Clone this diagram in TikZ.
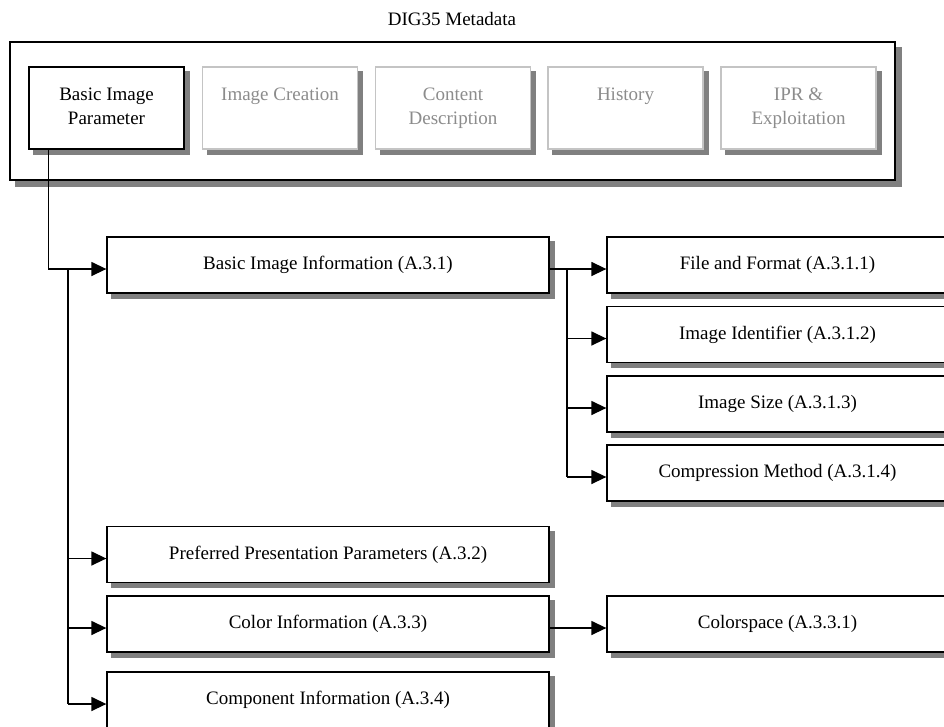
\documentclass[tikz,border=0pt]{standalone}
\usepackage{fontspec}
\setmainfont{Liberation Serif}
\usetikzlibrary{shadows,arrows.meta,calc}
\definecolor{shd}{HTML}{808080}
\definecolor{dimline}{HTML}{C4C4C4}
\definecolor{dimtext}{HTML}{8C8C8C}
\begin{document}
\begin{tikzpicture}[x=1pt,y=-1pt,
  every node/.style={font=\fontsize{19}{24}\selectfont},
  shbox/.style={draw=black, line width=1.3pt, fill=white, inner sep=0pt, align=center,
    general shadow={fill=shd, draw=shd, shadow xshift=5pt, shadow yshift=-5pt}},
  dimbox/.style={shbox, draw=dimline, text=dimtext},
  topbox/.style={minimum width=155pt, minimum height=82pt},
  leftbox/.style={shbox, minimum width=442pt, minimum height=56pt},
  rightbox/.style={shbox, minimum width=341pt, minimum height=56pt},
  conn/.style={line width=1.4pt, draw=black},
  arr/.style={conn, -{Triangle[length=15pt,width=14pt]}}]
\useasboundingbox (0,0) rectangle (944,726);
\clip (0,0) rectangle (944,726);

% title and container
\node[anchor=base] (title) at (452,25) {DIG35 Metadata};
\node[draw=black, line width=1.3pt, fill=white, inner sep=0pt,
  minimum width=885pt, minimum height=138pt,
  general shadow={fill=shd, draw=shd, shadow xshift=6pt, shadow yshift=-6pt}] (meta) at (452.5,111) {};

% top-level categories
\node[shbox, topbox] (bip) at (106.5,108) {\strut Basic Image\\\strut Parameter};
\node[dimbox, topbox] (ic) at (280,108) {\strut Image Creation\\\strut};
\node[dimbox, topbox] (cd) at (453,108) {\strut Content\\\strut Description};
\node[dimbox, topbox] (hi) at (625.5,108) {\strut History\\\strut};
\node[dimbox, topbox] (ipr) at (798.5,108) {\strut IPR \&\\\strut Exploitation};

% left column
\node[leftbox] (bii) at (328,265) {Basic Image Information (A.3.1)};
\node[leftbox] (ppp) at (328,554.5) {Preferred Presentation Parameters (A.3.2)};
\node[leftbox] (coi) at (328,624) {Color Information (A.3.3)};
\node[leftbox] (cmi) at (328,700) {Component Information (A.3.4)};

% right column
\node[rightbox] (ff) at (777.5,265) {File and Format (A.3.1.1)};
\node[rightbox] (iid) at (777.5,334.5) {Image Identifier (A.3.1.2)};
\node[rightbox] (isz) at (777.5,404) {Image Size (A.3.1.3)};
\node[rightbox] (cm) at (777.5,473) {Compression Method (A.3.1.4)};
\node[rightbox] (cs) at (777.5,624) {Colorspace (A.3.3.1)};

% attachment points
\coordinate (aBII) at ([yshift=-4pt]bii.west);
\coordinate (aPPP) at ([yshift=-4pt]ppp.west);
\coordinate (aCOI) at ([yshift=-4pt]coi.west);
\coordinate (aCMI) at ([yshift=-4pt]cmi.west);
\coordinate (aFF) at ([yshift=-4pt]ff.west);
\coordinate (aIID) at ([yshift=-4pt]iid.west);
\coordinate (aISZ) at ([yshift=-4pt]isz.west);
\coordinate (aCM) at ([yshift=-4pt]cm.west);
\coordinate (aCS) at ([yshift=-4pt]cs.west);
\coordinate (bipOut) at ($(bip.south west)+(20,0)$);
\coordinate (trunkL) at (68,0);
\coordinate (trunkR) at (567,0);

% connectors
\draw[arr] (bipOut) |- (aBII);
\draw[conn] (aBII -| trunkL) -- (aCMI -| trunkL);
\draw[arr] (aPPP -| trunkL) -- (aPPP);
\draw[arr] (aCOI -| trunkL) -- (aCOI);
\draw[arr] (aCMI -| trunkL) -- (aCMI);

\draw[arr] (aFF -| bii.east) -- (aFF);
\draw[conn] (aFF -| trunkR) -- (aCM -| trunkR);
\draw[arr] (aIID -| trunkR) -- (aIID);
\draw[arr] (aISZ -| trunkR) -- (aISZ);
\draw[arr] (aCM -| trunkR) -- (aCM);

\draw[arr] (aCS -| coi.east) -- (aCS);
\end{tikzpicture}
\end{document}
